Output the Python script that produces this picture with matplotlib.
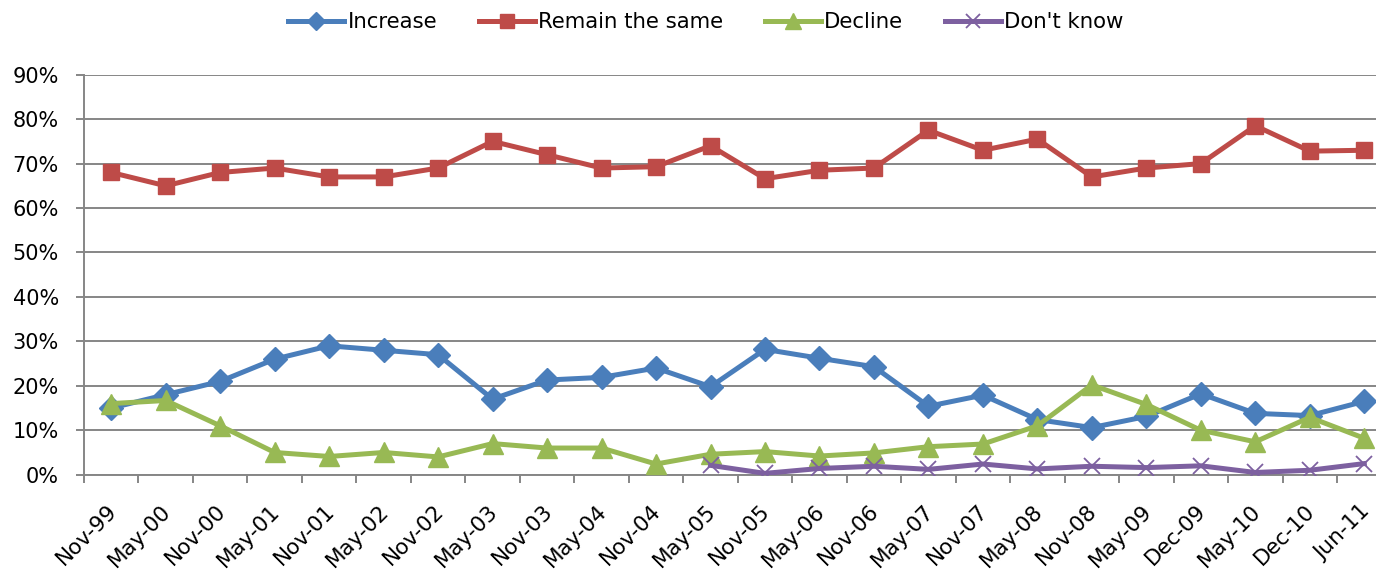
import matplotlib.pyplot as plt
import matplotlib.transforms as mtransforms
import numpy as np

# Survey periods
periods = ['Nov-99', 'May-00', 'Nov-00', 'May-01', 'Nov-01', 'May-02', 'Nov-02',
           'May-03', 'Nov-03', 'May-04', 'Nov-04', 'May-05', 'Nov-05', 'May-06',
           'Nov-06', 'May-07', 'Nov-07', 'May-08', 'Nov-08', 'May-09', 'Dec-09',
           'May-10', 'Dec-10', 'Jun-11']

# Shares in percent
increase = [15, 18, 21, 26, 29, 28, 27, 17, 21.3, 21.9, 24, 19.8, 28.2, 26.2,
            24.3, 15.4, 17.9, 12.4, 10.6, 13.1, 18.2, 13.8, 13.3, 16.5]
remain = [68, 65, 68, 69, 67, 67, 69, 75, 72, 69, 69.3, 74, 66.6, 68.5,
          69, 77.5, 73, 75.5, 67, 69, 70, 78.5, 72.8, 73]
decline = [16, 16.7, 11, 5, 4.1, 5, 4, 7, 6, 6, 2.4, 4.6, 5.2, 4.2,
           4.9, 6.3, 6.9, 11, 20.2, 15.8, 10, 7.4, 12.9, 8.2]
dont_know = [None] * 11 + [2.1, 0.3, 1.4, 1.9, 1.2, 2.4, 1.3, 1.9, 1.6, 2.0,
                           0.5, 1.0, 2.5]

plt.rcParams['font.family'] = ['DejaVu Sans']

fig = plt.figure(figsize=(13.76, 5.76), dpi=100)
ax = fig.add_axes([84 / 1376, 101.3 / 576, 1307.5 / 1376, 400 / 576])

x = np.arange(len(periods))
dk = np.array([np.nan if v is None else v for v in dont_know], dtype=float)

ax.plot(x, increase, color='#4A7EBB', lw=3.6, marker='D', ms=12,
        label='Increase', zorder=4)
ax.plot(x, remain, color='#BE4B48', lw=3.6, marker='s', ms=12,
        label='Remain the same', zorder=4)
ax.plot(x, decline, color='#98B954', lw=3.6, marker='^', ms=14,
        label='Decline', zorder=4)
ax.plot(x, dk, color='#7D60A0', lw=3.6, marker='x', ms=12, mew=1.3,
        label="Don't know", zorder=4)

ax.set_xlim(-0.5, len(periods) - 0.5)
ax.set_ylim(0, 90)
ax.set_yticks(np.arange(0, 91, 10))
ax.set_yticklabels([f'{v}%' for v in range(0, 91, 10)], fontsize=15)

ax.set_xticks(x)
ax.set_xticklabels(periods, rotation=45, ha='right', rotation_mode='anchor',
                   fontsize=15.5)
ax.tick_params(axis='x', which='major', length=0, pad=19)
ax.set_xticks(np.arange(-0.5, len(periods) - 1, 1), minor=True)
ax.tick_params(axis='x', which='minor', length=6, color='#868686', width=1.4)
ax.tick_params(axis='y', length=6, color='#868686', width=1.4, pad=12)

# nudge the rotated labels a little left so they sit like the original
shift = mtransforms.ScaledTranslation(-5 / 100, 0, fig.dpi_scale_trans)
for lbl in ax.get_xticklabels():
    lbl.set_transform(lbl.get_transform() + shift)

ax.grid(axis='y', color='#868686', lw=1.4)
ax.set_axisbelow(True)
for s in ['top', 'right']:
    ax.spines[s].set_visible(False)
for s in ['left', 'bottom']:
    ax.spines[s].set_color('#868686')
    ax.spines[s].set_linewidth(1.4)

fig.legend(loc='upper center', bbox_to_anchor=(0.513, 1.012), ncol=4, frameon=False,
           fontsize=15.3, handlelength=2.65, handletextpad=0.15, columnspacing=1.95,
           markerscale=0.8)

fig.savefig('out.png', dpi=100)
